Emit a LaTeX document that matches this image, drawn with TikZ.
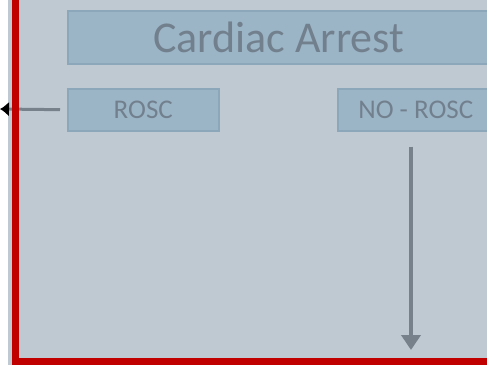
\documentclass[tikz,border=0pt]{standalone}
\usepackage{fontspec}
\setmainfont{Carlito}
\usepackage{xcolor}
\usetikzlibrary{arrows, arrows.meta}

\definecolor{panel}{HTML}{BFC9D2}
\definecolor{boxfill}{HTML}{9BB5C7}
\definecolor{boxline}{HTML}{8CA7BA}
\definecolor{boxtext}{HTML}{72808E}
\definecolor{flowgray}{HTML}{76818C}
\definecolor{framered}{HTML}{C00000}

\begin{document}
\begin{tikzpicture}[x=1pt, y=-1pt]
\tikzstyle{stage} = [rectangle, draw=boxline, fill=boxfill, line width=1.5pt, text=boxtext, inner sep=0pt, anchor=north west]
\tikzstyle{flow} = [draw=flowgray]

\useasboundingbox (0,0) rectangle (487,365);
\clip (0,0) rectangle (487,365);
\fill[panel] (8,0) rectangle (487,365);

\node (arrest) [stage, minimum width=422pt, minimum height=53pt, font=\fontsize{44}{46}\selectfont] at (67,10) {Cardiac Arrest};
\node (rosc)   [stage, minimum width=151pt, minimum height=42pt, font=\fontsize{27}{29}\selectfont] at (67,88) {ROSC};
\node (norosc) [stage, minimum width=156pt, minimum height=42pt, font=\fontsize{27}{29}\selectfont] at (337,88) {NO - ROSC};

\coordinate (out) at (0,109);
\coordinate (end) at (411,350);

\draw [flow, line width=3pt, -{Latex[length=9pt, width=15pt, color=black]}, shorten <=7pt] (rosc.west) -- (out);
\draw [flow, line width=4.5pt, -{Triangle[length=15pt, width=19pt]}] ([yshift=-15pt]end |- norosc.south) -- (end);

% frame
\draw [framered, line width=7pt] (15.5,-5) -- (15.5,361.5) -- (495,361.5);
\end{tikzpicture}
\end{document}
